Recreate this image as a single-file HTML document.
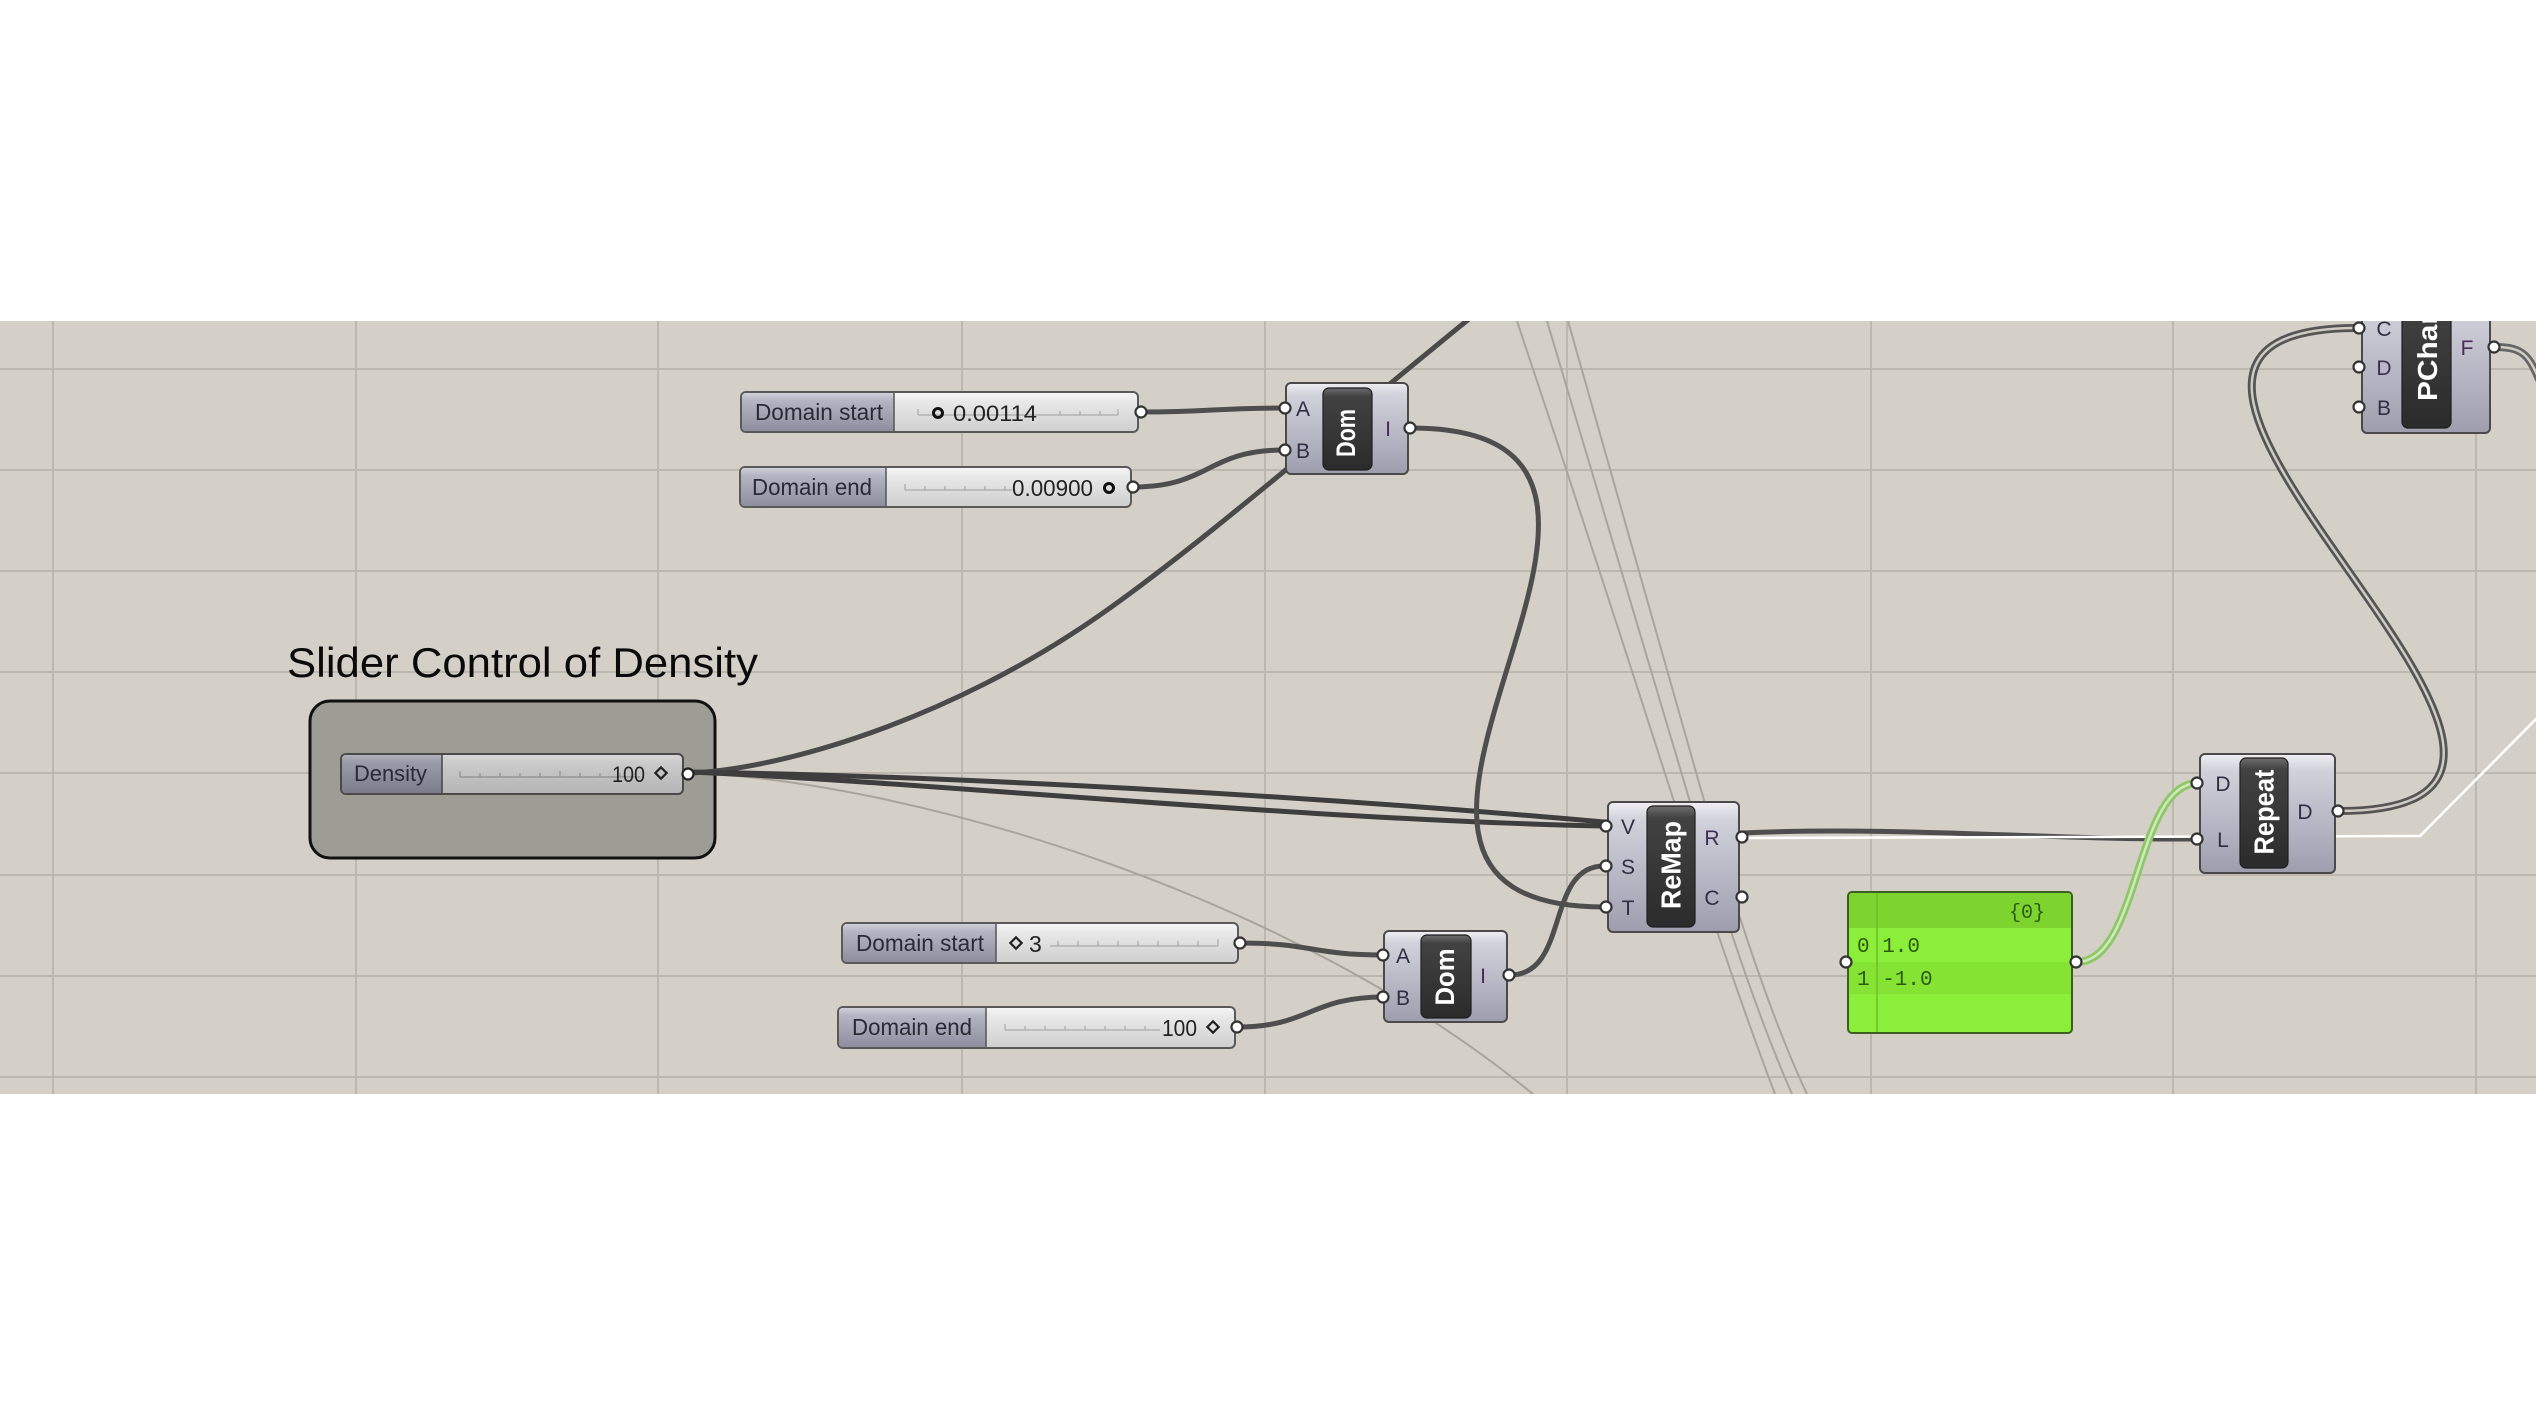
<!DOCTYPE html>
<html><head><meta charset="utf-8"><style>html,body{margin:0;padding:0;background:#fff;}svg{display:block}</style></head>
<body>
<svg width="2536" height="1420" viewBox="0 0 2536 1420" xmlns="http://www.w3.org/2000/svg" font-family="Liberation Sans, Arial, sans-serif">
<defs>
<clipPath id="cv"><rect x="0" y="321" width="2536" height="773"/></clipPath>
<linearGradient id="body" x1="0" y1="0" x2="0" y2="1">
<stop offset="0" stop-color="#efeff3"/><stop offset="0.13" stop-color="#d2d2dc"/><stop offset="1" stop-color="#9d9dae"/></linearGradient>
<linearGradient id="dark" x1="0" y1="0" x2="0" y2="1">
<stop offset="0" stop-color="#6e6e6e"/><stop offset="0.1" stop-color="#424242"/><stop offset="1" stop-color="#2b2b2b"/></linearGradient>
<linearGradient id="lab" x1="0" y1="0" x2="0" y2="1">
<stop offset="0" stop-color="#d0d0da"/><stop offset="0.2" stop-color="#b4b4c2"/><stop offset="1" stop-color="#8e8e9f"/></linearGradient>
<linearGradient id="val" x1="0" y1="0" x2="0" y2="1">
<stop offset="0" stop-color="#f6f6f6"/><stop offset="0.25" stop-color="#e8e8e8"/><stop offset="1" stop-color="#cfcfcf"/></linearGradient>
<linearGradient id="lab2" x1="0" y1="0" x2="0" y2="1">
<stop offset="0" stop-color="#b0b0ba"/><stop offset="0.2" stop-color="#9a9aa8"/><stop offset="1" stop-color="#7c7c8a"/></linearGradient>
<linearGradient id="val2" x1="0" y1="0" x2="0" y2="1">
<stop offset="0" stop-color="#d8d8d8"/><stop offset="0.25" stop-color="#cacaca"/><stop offset="1" stop-color="#b4b4b4"/></linearGradient>
</defs>

<rect x="0" y="0" width="2536" height="1420" fill="#ffffff"/>

<g clip-path="url(#cv)">
<rect x="0" y="321" width="2536" height="773" fill="#d4d0c8"/>
<g stroke="#bcb8af" stroke-width="2">
<line x1="53" y1="321" x2="53" y2="1094"/><line x1="356" y1="321" x2="356" y2="1094"/>
<line x1="658" y1="321" x2="658" y2="1094"/><line x1="962" y1="321" x2="962" y2="1094"/>
<line x1="1265" y1="321" x2="1265" y2="1094"/><line x1="1567" y1="321" x2="1567" y2="1094"/>
<line x1="1871" y1="321" x2="1871" y2="1094"/><line x1="2173" y1="321" x2="2173" y2="1094"/>
<line x1="2476" y1="321" x2="2476" y2="1094"/>
<line x1="0" y1="369" x2="2536" y2="369"/><line x1="0" y1="470" x2="2536" y2="470"/>
<line x1="0" y1="571" x2="2536" y2="571"/><line x1="0" y1="672" x2="2536" y2="672"/>
<line x1="0" y1="773" x2="2536" y2="773"/><line x1="0" y1="875" x2="2536" y2="875"/>
<line x1="0" y1="976" x2="2536" y2="976"/><line x1="0" y1="1077" x2="2536" y2="1077"/>
</g>

<g fill="none" stroke="#a9a59d" stroke-width="2">
<path d="M1517,321 Q1590,540 1660,758 T1775,1094"/>
<path d="M1547,321 Q1610,530 1677,758 T1792,1094"/>
<path d="M1568,321 Q1628,530 1692,758 T1807,1094"/>
<path d="M690,773 C900,780 1290,890 1540,1100"/>
</g>

<rect x="310" y="701" width="405" height="157" rx="20" fill="#9e9d95" stroke="#111" stroke-width="3"/>

<g fill="none" stroke="#4e4e4e" stroke-width="5" stroke-linecap="round">
<path d="M688,773 C780,770 950,720 1100,615 C1200,545 1320,440 1480,310" stroke="#4a4a4a"/>
<path d="M688,772 C950,776 1300,795 1604,822" stroke="#3e3e3e"/>
<path d="M688,772 C900,780 1300,820 1604,826" stroke="#3e3e3e"/>
<path d="M1141,412 C1210,412 1215,408 1284,408"/>
<path d="M1133,487 C1210,487 1207,450 1284,450"/>
<path d="M1240,943 C1312,943 1312,955 1384,955"/>
<path d="M1237,1027 C1310,1027 1310,997 1384,997"/>
<path d="M1411,428 C1751,428 1264,907 1604,907"/>
<path d="M1510,975 C1570,975 1545,866 1604,866"/>
<path d="M1743,833 C1900,826 2050,840 2195,839"/>
</g>
<path d="M1743,838 L2420,836 L2545,710" fill="none" stroke="#ffffff" stroke-width="2.5"/>
<g fill="none" stroke-linecap="round">
<path d="M2077,962 C2140,962 2135,783 2198,783" stroke="#8cc864" stroke-width="8"/>
<path d="M2077,962 C2140,962 2135,783 2198,783" stroke="#d2e6c2" stroke-width="2.5"/>
<path d="M2339,811 C2695,811 2000,328 2357,328" stroke="#555" stroke-width="8"/>
<path d="M2339,811 C2695,811 2000,328 2357,328" stroke="#cfcbc3" stroke-width="2.5"/>
<path d="M2495,347 C2530,347 2530,360 2548,400" stroke="#666" stroke-width="8"/>
<path d="M2495,347 C2530,347 2530,360 2548,400" stroke="#d0ccc4" stroke-width="2.5"/>
</g>

<g>
<rect x="341" y="754" width="342" height="40" rx="5" fill="url(#val2)" stroke="#4a4a4a" stroke-width="2"/>
<path d="M346,755 H442 V793 H346 Q342,793 342,789 V759 Q342,755 346,755Z" fill="url(#lab2)"/>
<line x1="442" y1="755" x2="442" y2="793" stroke="#444" stroke-width="1.5"/>
<text x="354" y="781" font-size="22" fill="#2a2a36" textLength="73" lengthAdjust="spacingAndGlyphs">Density</text>
<g stroke="#8e8e8e" stroke-width="1.2"><line x1="460" y1="777" x2="640" y2="777"/>
<line x1="460" y1="771" x2="460" y2="777"/><line x1="480" y1="773" x2="480" y2="777"/><line x1="500" y1="773" x2="500" y2="777"/><line x1="520" y1="773" x2="520" y2="777"/><line x1="540" y1="773" x2="540" y2="777"/><line x1="560" y1="771" x2="560" y2="777"/><line x1="580" y1="773" x2="580" y2="777"/><line x1="600" y1="773" x2="600" y2="777"/><line x1="620" y1="773" x2="620" y2="777"/></g>
<text x="645" y="782" font-size="22" fill="#222" text-anchor="end" textLength="33" lengthAdjust="spacingAndGlyphs">100</text>
<rect x="657" y="769" width="8" height="8" transform="rotate(45 661 773)" fill="none" stroke="#222" stroke-width="2.2"/>
<circle cx="688" cy="774" r="5.5" fill="#fff" stroke="#222" stroke-width="2.2"/>
</g>

<g>
<rect x="741" y="392" width="397" height="40" rx="5" fill="url(#val)" stroke="#5a5a5a" stroke-width="2"/>
<path d="M746,393 H894 V431 H746 Q742,431 742,427 V397 Q742,393 746,393Z" fill="url(#lab)"/>
<line x1="894" y1="393" x2="894" y2="431" stroke="#555" stroke-width="1.5"/>
<text x="755" y="420" font-size="23" fill="#2a2a36" textLength="128" lengthAdjust="spacingAndGlyphs">Domain start</text>
<g stroke="#aaa" stroke-width="1.2"><line x1="918" y1="415" x2="1118" y2="415"/>
<line x1="918" y1="409" x2="918" y2="415"/><line x1="1060" y1="411" x2="1060" y2="415"/><line x1="1080" y1="411" x2="1080" y2="415"/><line x1="1100" y1="411" x2="1100" y2="415"/><line x1="1118" y1="409" x2="1118" y2="415"/></g>
<circle cx="938" cy="413" r="4.5" fill="none" stroke="#111" stroke-width="3"/>
<text x="953" y="421" font-size="22" fill="#222" textLength="84" lengthAdjust="spacingAndGlyphs">0.00114</text>
<circle cx="1141" cy="412" r="5.5" fill="#fff" stroke="#333" stroke-width="2.2"/>
</g>

<g>
<rect x="740" y="467" width="391" height="40" rx="5" fill="url(#val)" stroke="#5a5a5a" stroke-width="2"/>
<path d="M745,468 H886 V506 H745 Q741,506 741,502 V472 Q741,468 745,468Z" fill="url(#lab)"/>
<line x1="886" y1="468" x2="886" y2="506" stroke="#555" stroke-width="1.5"/>
<text x="752" y="495" font-size="23" fill="#2a2a36" textLength="120" lengthAdjust="spacingAndGlyphs">Domain end</text>
<g stroke="#aaa" stroke-width="1.2"><line x1="905" y1="490" x2="1012" y2="490"/>
<line x1="905" y1="484" x2="905" y2="490"/><line x1="925" y1="486" x2="925" y2="490"/><line x1="945" y1="486" x2="945" y2="490"/><line x1="965" y1="486" x2="965" y2="490"/><line x1="985" y1="486" x2="985" y2="490"/><line x1="1005" y1="486" x2="1005" y2="490"/></g>
<text x="1093" y="496" font-size="23" fill="#222" text-anchor="end" textLength="81" lengthAdjust="spacingAndGlyphs">0.00900</text>
<circle cx="1109" cy="488" r="4.5" fill="none" stroke="#111" stroke-width="3"/>
<circle cx="1133" cy="487" r="5.5" fill="#fff" stroke="#333" stroke-width="2.2"/>
</g>

<g>
<rect x="842" y="923" width="396" height="40" rx="5" fill="url(#val)" stroke="#5a5a5a" stroke-width="2"/>
<path d="M847,924 H996 V962 H847 Q843,962 843,958 V928 Q843,924 847,924Z" fill="url(#lab)"/>
<line x1="996" y1="924" x2="996" y2="962" stroke="#555" stroke-width="1.5"/>
<text x="856" y="951" font-size="23" fill="#2a2a36" textLength="128" lengthAdjust="spacingAndGlyphs">Domain start</text>
<g stroke="#aaa" stroke-width="1.2"><line x1="1050" y1="946" x2="1218" y2="946"/>
<line x1="1058" y1="941" x2="1058" y2="946"/><line x1="1078" y1="941" x2="1078" y2="946"/><line x1="1098" y1="941" x2="1098" y2="946"/><line x1="1118" y1="941" x2="1118" y2="946"/><line x1="1138" y1="941" x2="1138" y2="946"/><line x1="1158" y1="941" x2="1158" y2="946"/><line x1="1178" y1="941" x2="1178" y2="946"/><line x1="1198" y1="941" x2="1198" y2="946"/><line x1="1218" y1="939" x2="1218" y2="946"/></g>
<rect x="1012" y="939" width="8" height="8" transform="rotate(45 1016 943)" fill="none" stroke="#222" stroke-width="2.2"/>
<text x="1029" y="952" font-size="23" fill="#222">3</text>
<circle cx="1240" cy="943" r="5.5" fill="#fff" stroke="#333" stroke-width="2.2"/>
</g>

<g>
<rect x="838" y="1007" width="397" height="41" rx="5" fill="url(#val)" stroke="#5a5a5a" stroke-width="2"/>
<path d="M843,1008 H986 V1047 H843 Q839,1047 839,1043 V1012 Q839,1008 843,1008Z" fill="url(#lab)"/>
<line x1="986" y1="1008" x2="986" y2="1047" stroke="#555" stroke-width="1.5"/>
<text x="852" y="1035" font-size="23" fill="#2a2a36" textLength="120" lengthAdjust="spacingAndGlyphs">Domain end</text>
<g stroke="#aaa" stroke-width="1.2"><line x1="1005" y1="1030" x2="1160" y2="1030"/>
<line x1="1005" y1="1024" x2="1005" y2="1030"/><line x1="1025" y1="1026" x2="1025" y2="1030"/><line x1="1045" y1="1026" x2="1045" y2="1030"/><line x1="1065" y1="1026" x2="1065" y2="1030"/><line x1="1085" y1="1026" x2="1085" y2="1030"/><line x1="1105" y1="1026" x2="1105" y2="1030"/><line x1="1125" y1="1026" x2="1125" y2="1030"/><line x1="1145" y1="1026" x2="1145" y2="1030"/></g>
<text x="1197" y="1036" font-size="23" fill="#222" text-anchor="end" textLength="35" lengthAdjust="spacingAndGlyphs">100</text>
<rect x="1209" y="1023" width="8" height="8" transform="rotate(45 1213 1027)" fill="none" stroke="#222" stroke-width="2.2"/>
<circle cx="1237" cy="1027" r="5.5" fill="#fff" stroke="#333" stroke-width="2.2"/>
</g>

<g>
<rect x="1286" y="383" width="122" height="91" rx="5" fill="url(#body)" stroke="#4a4a4a" stroke-width="2"/>
<rect x="1323" y="388" width="49" height="82" rx="6" fill="url(#dark)" stroke="#1e1e1e" stroke-width="1.2"/>
<text transform="translate(1346,433) rotate(-90)" text-anchor="middle" dominant-baseline="central" font-weight="bold" font-size="27" fill="#fff" textLength="48" lengthAdjust="spacingAndGlyphs">Dom</text>
<text x="1303" y="416" font-size="21" fill="#2e2e44" text-anchor="middle">A</text>
<text x="1303" y="458" font-size="21" fill="#2e2e44" text-anchor="middle">B</text>
<text x="1388" y="436" font-size="21" fill="#4a2a5a" text-anchor="middle">I</text>
<circle cx="1285" cy="408" r="5.5" fill="#fff" stroke="#333" stroke-width="2.2"/>
<circle cx="1285" cy="450" r="5.5" fill="#fff" stroke="#333" stroke-width="2.2"/>
<circle cx="1410" cy="428" r="5.5" fill="#fff" stroke="#333" stroke-width="2.2"/>
</g>

<g>
<rect x="1384" y="931" width="123" height="91" rx="5" fill="url(#body)" stroke="#4a4a4a" stroke-width="2"/>
<rect x="1421" y="935" width="50" height="83" rx="6" fill="url(#dark)" stroke="#1e1e1e" stroke-width="1.2"/>
<text transform="translate(1445,977) rotate(-90)" text-anchor="middle" dominant-baseline="central" font-weight="bold" font-size="27" fill="#fff" textLength="57" lengthAdjust="spacingAndGlyphs">Dom</text>
<text x="1403" y="963" font-size="21" fill="#2e2e44" text-anchor="middle">A</text>
<text x="1403" y="1005" font-size="21" fill="#2e2e44" text-anchor="middle">B</text>
<text x="1483" y="983" font-size="21" fill="#4a2a5a" text-anchor="middle">I</text>
<circle cx="1383" cy="955" r="5.5" fill="#fff" stroke="#333" stroke-width="2.2"/>
<circle cx="1383" cy="997" r="5.5" fill="#fff" stroke="#333" stroke-width="2.2"/>
<circle cx="1509" cy="975" r="5.5" fill="#fff" stroke="#333" stroke-width="2.2"/>
</g>

<g>
<rect x="1608" y="802" width="131" height="130" rx="5" fill="url(#body)" stroke="#4a4a4a" stroke-width="2"/>
<rect x="1647" y="806" width="48" height="121" rx="6" fill="url(#dark)" stroke="#1e1e1e" stroke-width="1.2"/>
<text transform="translate(1671,865) rotate(-90)" text-anchor="middle" dominant-baseline="central" font-weight="bold" font-size="28" fill="#fff" textLength="88" lengthAdjust="spacingAndGlyphs">ReMap</text>
<text x="1628" y="834" font-size="21" fill="#2e2e44" text-anchor="middle">V</text>
<text x="1628" y="874" font-size="21" fill="#2e2e44" text-anchor="middle">S</text>
<text x="1628" y="915" font-size="21" fill="#2e2e44" text-anchor="middle">T</text>
<text x="1712" y="845" font-size="21" fill="#3e2e54" text-anchor="middle">R</text>
<text x="1712" y="905" font-size="21" fill="#2e2e44" text-anchor="middle">C</text>
<circle cx="1606" cy="826" r="5.5" fill="#fff" stroke="#333" stroke-width="2.2"/>
<circle cx="1606" cy="866" r="5.5" fill="#fff" stroke="#333" stroke-width="2.2"/>
<circle cx="1606" cy="907" r="5.5" fill="#fff" stroke="#333" stroke-width="2.2"/>
<circle cx="1742" cy="837" r="5.5" fill="#fff" stroke="#333" stroke-width="2.2"/>
<circle cx="1742" cy="897" r="5.5" fill="#fff" stroke="#333" stroke-width="2.2"/>
</g>

<g>
<rect x="1848" y="892" width="224" height="141" rx="4" fill="#8bef3a" stroke="#3d5e22" stroke-width="2"/>
<path d="M1852,893 H2068 Q2071,893 2071,896 V928 H1849 V896 Q1849,893 1852,893Z" fill="#7dd42e"/>
<rect x="1849" y="962" width="222" height="32" fill="#85e334"/>
<line x1="1877" y1="893" x2="1877" y2="1032" stroke="#6cbc2a" stroke-width="2" opacity="0.7"/>
<text x="2027" y="918" font-family="Liberation Mono, monospace" font-size="20" fill="#2d5a12" text-anchor="middle">{0}</text>
<text x="1857" y="952" font-family="Liberation Mono, monospace" font-size="21" fill="#2d5a12">0 1.0</text>
<text x="1857" y="985" font-family="Liberation Mono, monospace" font-size="21" fill="#2d5a12">1 -1.0</text>
<circle cx="1846" cy="962" r="5.5" fill="#fff" stroke="#333" stroke-width="2.2"/>
<circle cx="2076" cy="962" r="5.5" fill="#fff" stroke="#333" stroke-width="2.2"/>
</g>

<g>
<rect x="2200" y="754" width="135" height="119" rx="5" fill="url(#body)" stroke="#4a4a4a" stroke-width="2"/>
<rect x="2240" y="758" width="48" height="110" rx="6" fill="url(#dark)" stroke="#1e1e1e" stroke-width="1.2"/>
<text transform="translate(2264,812) rotate(-90)" text-anchor="middle" dominant-baseline="central" font-weight="bold" font-size="28" fill="#fff" textLength="85" lengthAdjust="spacingAndGlyphs">Repeat</text>
<text x="2223" y="791" font-size="21" fill="#2e2e44" text-anchor="middle">D</text>
<text x="2223" y="847" font-size="21" fill="#2e2e44" text-anchor="middle">L</text>
<text x="2305" y="819" font-size="21" fill="#2e2e44" text-anchor="middle">D</text>
<circle cx="2197" cy="783" r="5.5" fill="#fff" stroke="#333" stroke-width="2.2"/>
<circle cx="2197" cy="839" r="5.5" fill="#fff" stroke="#333" stroke-width="2.2"/>
<circle cx="2338" cy="811" r="5.5" fill="#fff" stroke="#333" stroke-width="2.2"/>
</g>

<g>
<rect x="2362" y="290" width="128" height="143" rx="5" fill="url(#body)" stroke="#4a4a4a" stroke-width="2"/>
<rect x="2402" y="290" width="49" height="138" rx="6" fill="url(#dark)" stroke="#1e1e1e" stroke-width="1.2"/>
<text transform="translate(2437,401) rotate(-90)" font-weight="bold" font-size="28" fill="#fff" textLength="88" lengthAdjust="spacingAndGlyphs">PChar</text>
<text x="2384" y="336" font-size="21" fill="#2e2e44" text-anchor="middle">C</text>
<text x="2384" y="375" font-size="21" fill="#3e2e54" text-anchor="middle">D</text>
<text x="2384" y="415" font-size="21" fill="#2e2e44" text-anchor="middle">B</text>
<text x="2467" y="355" font-size="21" fill="#4a2a5a" text-anchor="middle">F</text>
<circle cx="2359" cy="328" r="5.5" fill="#fff" stroke="#333" stroke-width="2.2"/>
<circle cx="2359" cy="367" r="5.5" fill="#fff" stroke="#333" stroke-width="2.2"/>
<circle cx="2359" cy="407" r="5.5" fill="#fff" stroke="#333" stroke-width="2.2"/>
<circle cx="2494" cy="347" r="5.5" fill="#fff" stroke="#333" stroke-width="2.2"/>
</g>

<text x="287" y="677" font-size="42" fill="#0a0a0a" textLength="471" lengthAdjust="spacingAndGlyphs">Slider Control of Density</text>
</g>
</svg>
</body></html>
